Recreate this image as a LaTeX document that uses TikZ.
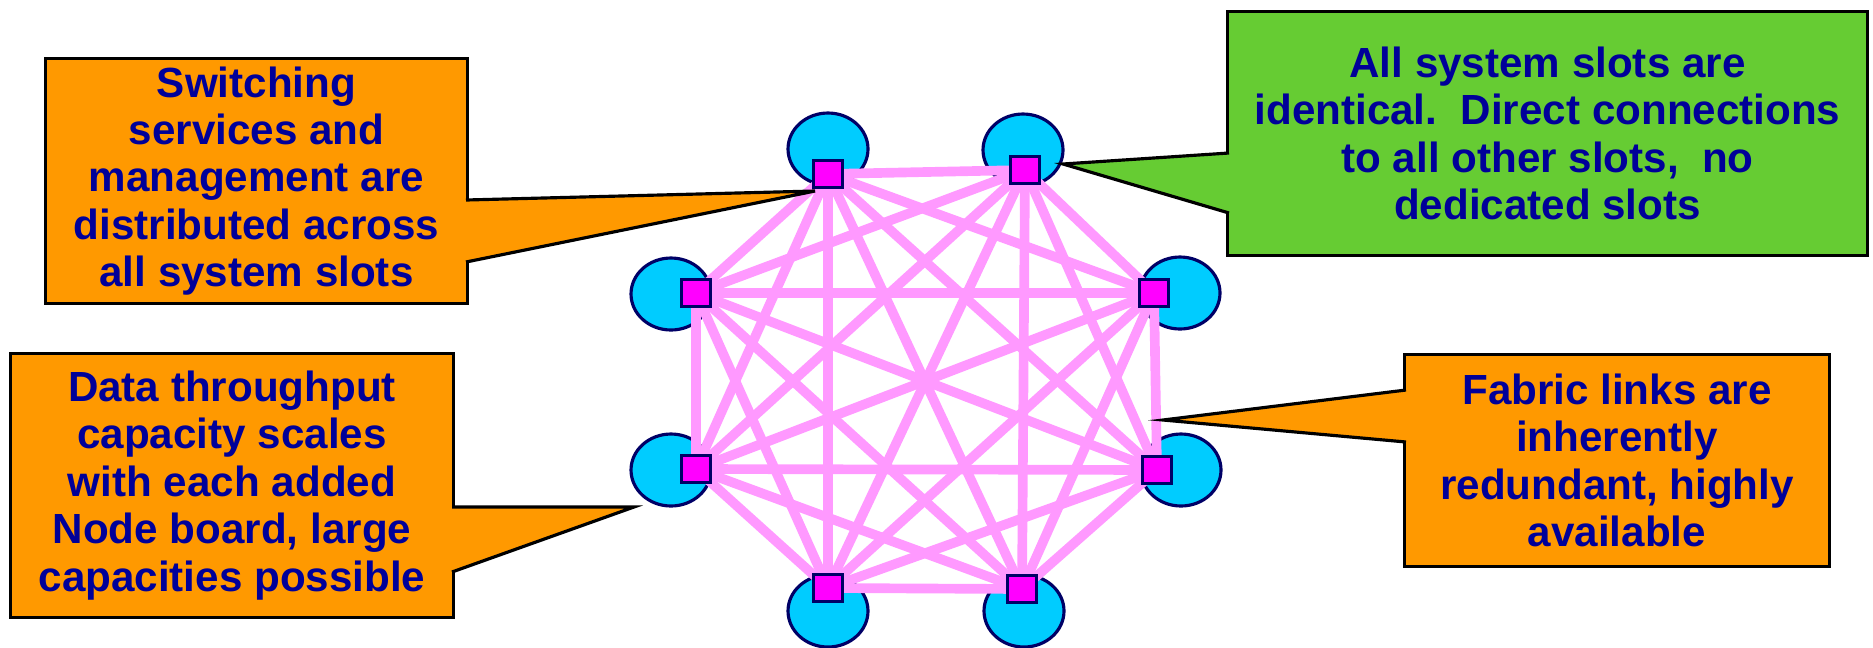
\documentclass[tikz,border=0pt]{standalone}
\usepackage{fontspec}
\setmainfont{Liberation Sans}
\usetikzlibrary{shapes.geometric}

\definecolor{calloutorange}{HTML}{FF9900}
\definecolor{calloutgreen}{HTML}{66CC33}
\definecolor{labelnavy}{HTML}{000099}
\definecolor{rimnavy}{HTML}{000066}
\definecolor{slotcyan}{HTML}{00CCFF}
\definecolor{slotmagenta}{HTML}{FF00FF}
\definecolor{linkpink}{HTML}{FF99FF}

\begin{document}
\begin{tikzpicture}[x=0.02cm,y=-0.02cm,
  slotdisc/.style={ellipse, draw=rimnavy, line width=1.8pt, fill=slotcyan,
    minimum width=1.6cm, minimum height=1.44cm, inner sep=0pt},
  slotchip/.style={rectangle, draw=rimnavy, line width=2pt, fill=slotmagenta,
    minimum width=0.58cm, minimum height=0.54cm, inner sep=0pt},
  link/.style={draw=linkpink, line width=5.5pt},
  callout/.style={rectangle, draw=black, line width=1.8pt, inner sep=0pt,
    align=center, text=labelnavy, font=\fontsize{24}{27}\selectfont\bfseries},
  wedgeline/.style={draw=black, line width=1.8pt, line join=miter}]

\useasboundingbox (0,0) rectangle (1873,647);

% slot discs
\node[slotdisc] (d1) at (828,149) {};
\node[slotdisc] (d2) at (1023,150) {};
\node[slotdisc] (d3) at (1180,293) {};
\node[slotdisc] (d4) at (1181,470) {};
\node[slotdisc] (d5) at (1024,611) {};
\node[slotdisc] (d6) at (828,611) {};
\node[slotdisc] (d7) at (671,470) {};
\node[slotdisc] (d8) at (671,294) {};

% slot connector positions
\coordinate (c1) at (828,174);
\coordinate (c2) at (1025,170);
\coordinate (c3) at (1154,293);
\coordinate (c4) at (1157,470);
\coordinate (c5) at (1022,589);
\coordinate (c6) at (828,588);
\coordinate (c7) at (696,469);
\coordinate (c8) at (696,293);

% full mesh of fabric links
\foreach \i in {1,...,7}{
  \pgfmathtruncatemacro\nxt{\i+1}
  \foreach \j in {\nxt,...,8}{
    \draw[link] (c\i) -- (c\j);
  }
}

\foreach \i in {1,...,8}{
  \node[slotchip] (s\i) at (c\i) {};
}

% callout boxes
\node[callout, fill=calloutorange, minimum width=8.44cm, minimum height=4.9cm]
  (box1) at (256.5,181) {Switching\\services and\\management are\\distributed across\\all system slots};
\node[callout, fill=calloutgreen, minimum width=12.8cm, minimum height=4.88cm]
  (box2) at (1547.5,133.5) {All system slots are\\identical.\ \ Direct connections\\to all other slots,\ \ no\\dedicated slots};
\node[callout, fill=calloutorange, minimum width=8.86cm, minimum height=5.28cm]
  (box3) at (232,485.5) {Data throughput\\capacity scales\\with each added\\Node board, large\\capacities possible};
\node[callout, fill=calloutorange, minimum width=8.5cm, minimum height=4.24cm]
  (box4) at (1617,460.5) {Fabric links are\\inherently\\redundant, highly\\available};

% callout pointers
\coordinate (tip1) at (815,191);
\coordinate (tip2) at (1063,164);
\coordinate (tip3) at (634,507);
\coordinate (tip4) at (1163,420);

\coordinate (b1a) at (466,200);  \coordinate (b1b) at (466,262);
\coordinate (b2a) at (1229,153); \coordinate (b2b) at (1229,213);
\coordinate (b3a) at (452,507);  \coordinate (b3b) at (452,572);
\coordinate (b4a) at (1406,390); \coordinate (b4b) at (1406,442);

\fill[calloutorange] (b1a) -- (tip1) -- (b1b) -- cycle;
\draw[wedgeline] (b1a) -- (tip1) -- (b1b);
\fill[calloutgreen] (b2a) -- (tip2) -- (b2b) -- cycle;
\draw[wedgeline] (b2a) -- (tip2) -- (b2b);
\fill[calloutorange] (b3a) -- (tip3) -- (b3b) -- cycle;
\draw[wedgeline] (b3a) -- (tip3) -- (b3b);
\fill[calloutorange] (b4a) -- (tip4) -- (b4b) -- cycle;
\draw[wedgeline] (b4a) -- (tip4) -- (b4b);

\end{tikzpicture}
\end{document}
